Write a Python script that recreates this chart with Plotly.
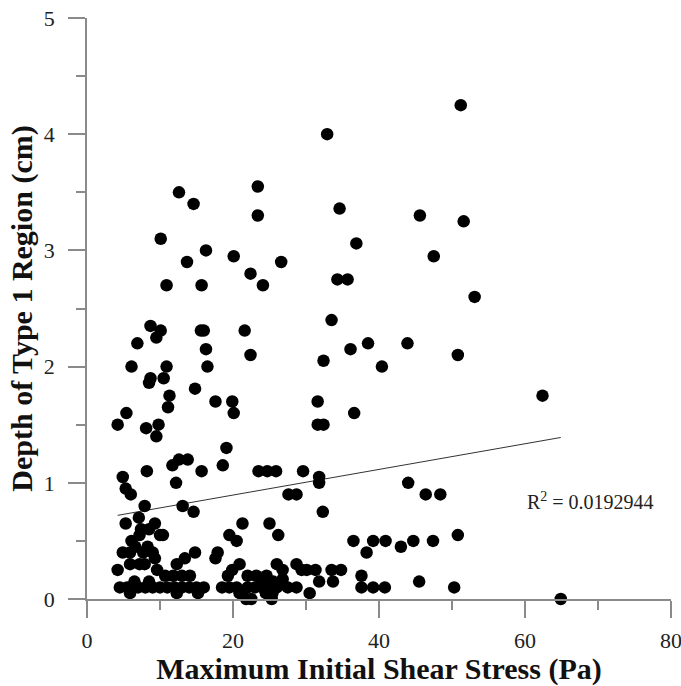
import plotly.graph_objects as go

# Maximum initial shear stress (Pa)
shear_x = [
    51.2, 32.9, 23.4, 12.6, 14.6, 34.6, 23.4, 45.6, 51.6, 10.1, 36.9, 16.3, 20.1, 47.5, 13.7, 26.6,
    22.4, 10.9, 15.7, 24.1, 34.3, 35.7, 53.1, 33.5, 8.7, 10.1, 9.5, 6.9, 15.6, 16.0, 21.6, 16.3,
    22.4, 38.5, 36.1, 43.9, 50.8, 32.4, 40.4, 6.1, 10.9, 16.5, 8.7, 8.5, 10.5, 14.8, 11.3, 17.6,
    19.9, 31.6, 62.4, 11.1, 20.1, 5.4, 36.6, 4.2, 8.1, 9.8, 31.6, 32.4, 9.5, 19.1,
    11.7, 12.6, 13.8, 8.2, 15.7, 18.6, 12.2, 4.9, 23.5, 24.7, 25.9, 29.6, 31.8, 31.8, 44.0, 5.3,
    6.0, 27.6, 28.7, 46.4, 48.4, 7.9, 13.1, 14.6, 32.3, 7.1, 5.3, 7.4, 8.5, 9.3, 21.3, 25.0,
    10.0, 10.4, 19.5, 20.5, 26.2, 6.1, 7.2, 36.5, 39.2, 40.9, 44.7, 47.4, 50.8, 43.0, 38.3, 6.6,
    8.3, 4.9, 5.9, 7.7, 9.0, 14.8, 17.9, 17.6, 13.4, 9.3, 12.3, 5.9, 7.2, 7.9, 20.9, 26.0,
    28.7, 4.2, 9.6, 19.9, 26.8, 29.4, 30.1, 31.3, 33.5, 34.8, 19.3, 23.2, 24.6, 10.7, 11.8, 13.0,
    14.1, 22.0, 37.6, 31.8, 33.7, 45.5, 26.8, 24.0, 25.5, 6.5, 8.5, 4.5, 5.5, 7.0, 8.0, 9.0,
    10.0, 11.0, 12.0, 13.0, 14.0, 15.0, 16.0, 18.5, 19.5, 20.5, 22.0, 23.0, 24.0, 25.0, 26.0, 27.5,
    28.7, 37.6, 39.2, 40.8, 50.3, 5.9, 12.3, 15.2, 20.9, 21.8, 22.5, 25.3, 24.5, 25.4, 30.5, 64.9,
]

# Depth of Type 1 region (cm)
depth_y = [
    4.25, 4.0, 3.55, 3.5, 3.4, 3.36, 3.3, 3.3, 3.25, 3.1, 3.06, 3.0, 2.95, 2.95, 2.9, 2.9,
    2.8, 2.7, 2.7, 2.7, 2.75, 2.75, 2.6, 2.4, 2.35, 2.31, 2.25, 2.2, 2.31, 2.31, 2.31, 2.15,
    2.1, 2.2, 2.15, 2.2, 2.1, 2.05, 2.0, 2.0, 2.0, 2.0, 1.9, 1.86, 1.9, 1.81, 1.75, 1.7,
    1.7, 1.7, 1.75, 1.65, 1.6, 1.6, 1.6, 1.5, 1.47, 1.5, 1.5, 1.5, 1.4, 1.3,
    1.15, 1.2, 1.2, 1.1, 1.1, 1.15, 1.0, 1.05, 1.1, 1.1, 1.1, 1.1, 1.05, 1.0, 1.0, 0.95,
    0.9, 0.9, 0.9, 0.9, 0.9, 0.8, 0.8, 0.75, 0.75, 0.7, 0.65, 0.6, 0.6, 0.65, 0.65, 0.65,
    0.55, 0.55, 0.55, 0.5, 0.55, 0.5, 0.55, 0.5, 0.5, 0.5, 0.5, 0.5, 0.55, 0.45, 0.4, 0.45,
    0.45, 0.4, 0.4, 0.4, 0.4, 0.4, 0.4, 0.35, 0.35, 0.35, 0.3, 0.3, 0.3, 0.3, 0.3, 0.3,
    0.3, 0.25, 0.25, 0.25, 0.25, 0.25, 0.25, 0.25, 0.25, 0.25, 0.2, 0.2, 0.2, 0.2, 0.2, 0.2,
    0.2, 0.2, 0.2, 0.15, 0.15, 0.15, 0.17, 0.15, 0.15, 0.15, 0.15, 0.1, 0.1, 0.1, 0.1, 0.1,
    0.1, 0.1, 0.1, 0.1, 0.1, 0.1, 0.1, 0.1, 0.1, 0.1, 0.1, 0.1, 0.1, 0.1, 0.1, 0.1,
    0.1, 0.1, 0.1, 0.1, 0.1, 0.05, 0.05, 0.05, 0.05, 0.0, 0.0, 0.0, 0.05, 0.05, 0.05, 0.0,
]

# Linear trend line (as drawn in the reference)
trend_x = [4.2, 64.9]
trend_y = [0.72, 1.39]
r2_label = "R<sup>2</sup> = 0.0192944"

x_ticks = [0, 20, 40, 60, 80]
y_ticks = [0, 1, 2, 3, 4, 5]

serif = "Liberation Serif, Times New Roman, serif"

fig = go.Figure()
fig.add_trace(go.Scatter(
    x=trend_x, y=trend_y, mode="lines",
    line=dict(color="#333333", width=1), showlegend=False, hoverinfo="skip",
))
fig.add_trace(go.Scatter(
    x=shear_x, y=depth_y, mode="markers",
    marker=dict(color="black", size=12.5), cliponaxis=False, showlegend=False,
))

fig.add_annotation(
    x=60.0, y=0.84, xref="x", yref="y", text=r2_label, showarrow=False,
    xanchor="left", yanchor="middle", font=dict(family=serif, size=20, color="#222222"),
)

axis_common = dict(
    showgrid=False, zeroline=False, showline=True, linecolor="#8a8a8a", linewidth=1.5,
    ticks="outside", tickcolor="#8a8a8a", tickwidth=1.5, ticklen=17,
    tickfont=dict(family=serif, size=22, color="#222222"),
    ticklabeloverflow="allow", automargin=False,
)

fig.update_xaxes(
    range=[0, 80], tickvals=x_ticks, ticktext=[str(v) for v in x_ticks],
    minor=dict(ticks="outside", dtick=10, tick0=0, ticklen=9, tickcolor="#8a8a8a", tickwidth=1.5),
    title=dict(text="<b>Maximum Initial Shear Stress (Pa)</b>",
               font=dict(family=serif, size=30, color="#111111"), standoff=0),
    ticklabelstandoff=4,
    **axis_common,
)
fig.update_yaxes(
    range=[0, 5], tickvals=y_ticks, ticktext=[str(v) for v in y_ticks],
    minor=dict(ticks="outside", dtick=0.5, tick0=0, ticklen=9, tickcolor="#8a8a8a", tickwidth=1.5),
    title=dict(text="<b>Depth of Type 1 Region (cm)</b>",
               font=dict(family=serif, size=30, color="#111111"), standoff=2),
    ticklabelstandoff=9,
    **axis_common,
)

fig.update_layout(
    width=681, height=686,
    margin=dict(l=87, r=10, t=18, b=87, autoexpand=False),
    plot_bgcolor="white", paper_bgcolor="white",
    showlegend=False,
)

fig.write_html("out.html")
